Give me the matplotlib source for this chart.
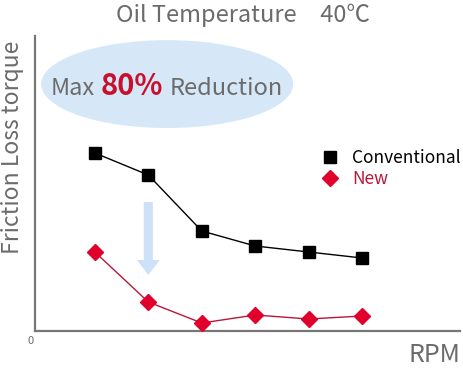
import matplotlib
matplotlib.use("Agg")
import matplotlib.pyplot as plt
from matplotlib.patches import Ellipse, FancyArrow
from matplotlib.lines import Line2D

plt.rcParams['font.family'] = ['Noto Sans CJK JP', 'DejaVu Sans']

# data (arbitrary units)
rpm_steps = [1, 2, 3, 4, 5, 6]
conventional = [178, 156, 100, 85, 79, 73]
new = [79, 29, 8, 16, 12, 15]

title = "Oil Temperature\u300040℃"
ylabel = "Friction Loss torque"
xlabel = "RPM"

GRAY = "#6b6b6b"
RED_MARK = "#e0002b"
RED_LINE = "#b8173a"
RED_TEXT = "#c8102e"
BLUE = "#d6e8f8"

W, H = 463, 387
fig = plt.figure(figsize=(W / 100, H / 100), dpi=100)

def fx(px):
    return px / W

def fy(py):
    return 1 - py / H

ax = fig.add_axes([fx(35), fy(331), fx(425), 295 / H])
ax.set_xlim(-0.12, 7.83)
ax.set_ylim(0, 295)
for s in ["top", "right"]:
    ax.spines[s].set_visible(False)
for s in ["left", "bottom"]:
    ax.spines[s].set_color("#777777")
    ax.spines[s].set_linewidth(1.6)
ax.set_xticks([])
ax.set_yticks([])

# highlight bubble
ax.add_patch(Ellipse((0.311, 0.837), 0.593, 0.298, transform=ax.transAxes,
                     facecolor=BLUE, edgecolor="none", clip_on=False, zorder=0))

# arrow down
ax.add_patch(FancyArrow(2, 129, 0, -58, width=0.17, head_width=0.43,
                        head_length=15, length_includes_head=False,
                        facecolor="#cde2f8", edgecolor="none", zorder=1))

ax.plot(rpm_steps, conventional, color="black", linewidth=1.0, marker="s",
        markersize=8.5, markerfacecolor="black", markeredgecolor="black", zorder=3)
ax.plot(rpm_steps, new, color=RED_LINE, linewidth=1.0, marker="D",
        markersize=8.5, markerfacecolor=RED_MARK, markeredgecolor=RED_MARK, zorder=3)

handles = [
    Line2D([], [], linestyle="none", marker="s", markersize=8, color="black"),
    Line2D([], [], linestyle="none", marker="D", markersize=8, color=RED_MARK),
]
leg = ax.legend(handles, ["Conventional", "New"], loc="upper left",
                bbox_to_anchor=((314 - 35) / 425, (331 - 140) / 295),
                frameon=False, fontsize=12.5, handlelength=0.8, handletextpad=0.9,
                labelspacing=0.2, borderpad=0)
leg.get_texts()[0].set_color("black")
leg.get_texts()[1].set_color(RED_LINE)

fig.text(fx(243), fy(15), title, ha="center", va="center", fontsize=17, color=GRAY)
fig.text(fx(13), fy(147), ylabel, rotation=90, ha="center", va="center",
         fontsize=16.5, color=GRAY)
fig.text(fx(460), fy(362), xlabel, ha="right", va="baseline", fontsize=18, color=GRAY)
fig.text(fx(31), fy(341), "0", ha="center", va="center", fontsize=8, color=GRAY)

fig.text(fx(51), fy(95), "Max", ha="left", va="baseline", fontsize=17, color=GRAY)
fig.text(fx(101), fy(95), "80%", ha="left", va="baseline", fontsize=21,
         color=RED_TEXT, fontweight="bold")
fig.text(fx(170), fy(95), "Reduction", ha="left", va="baseline", fontsize=17, color=GRAY)

fig.savefig("out.png", dpi=100)
